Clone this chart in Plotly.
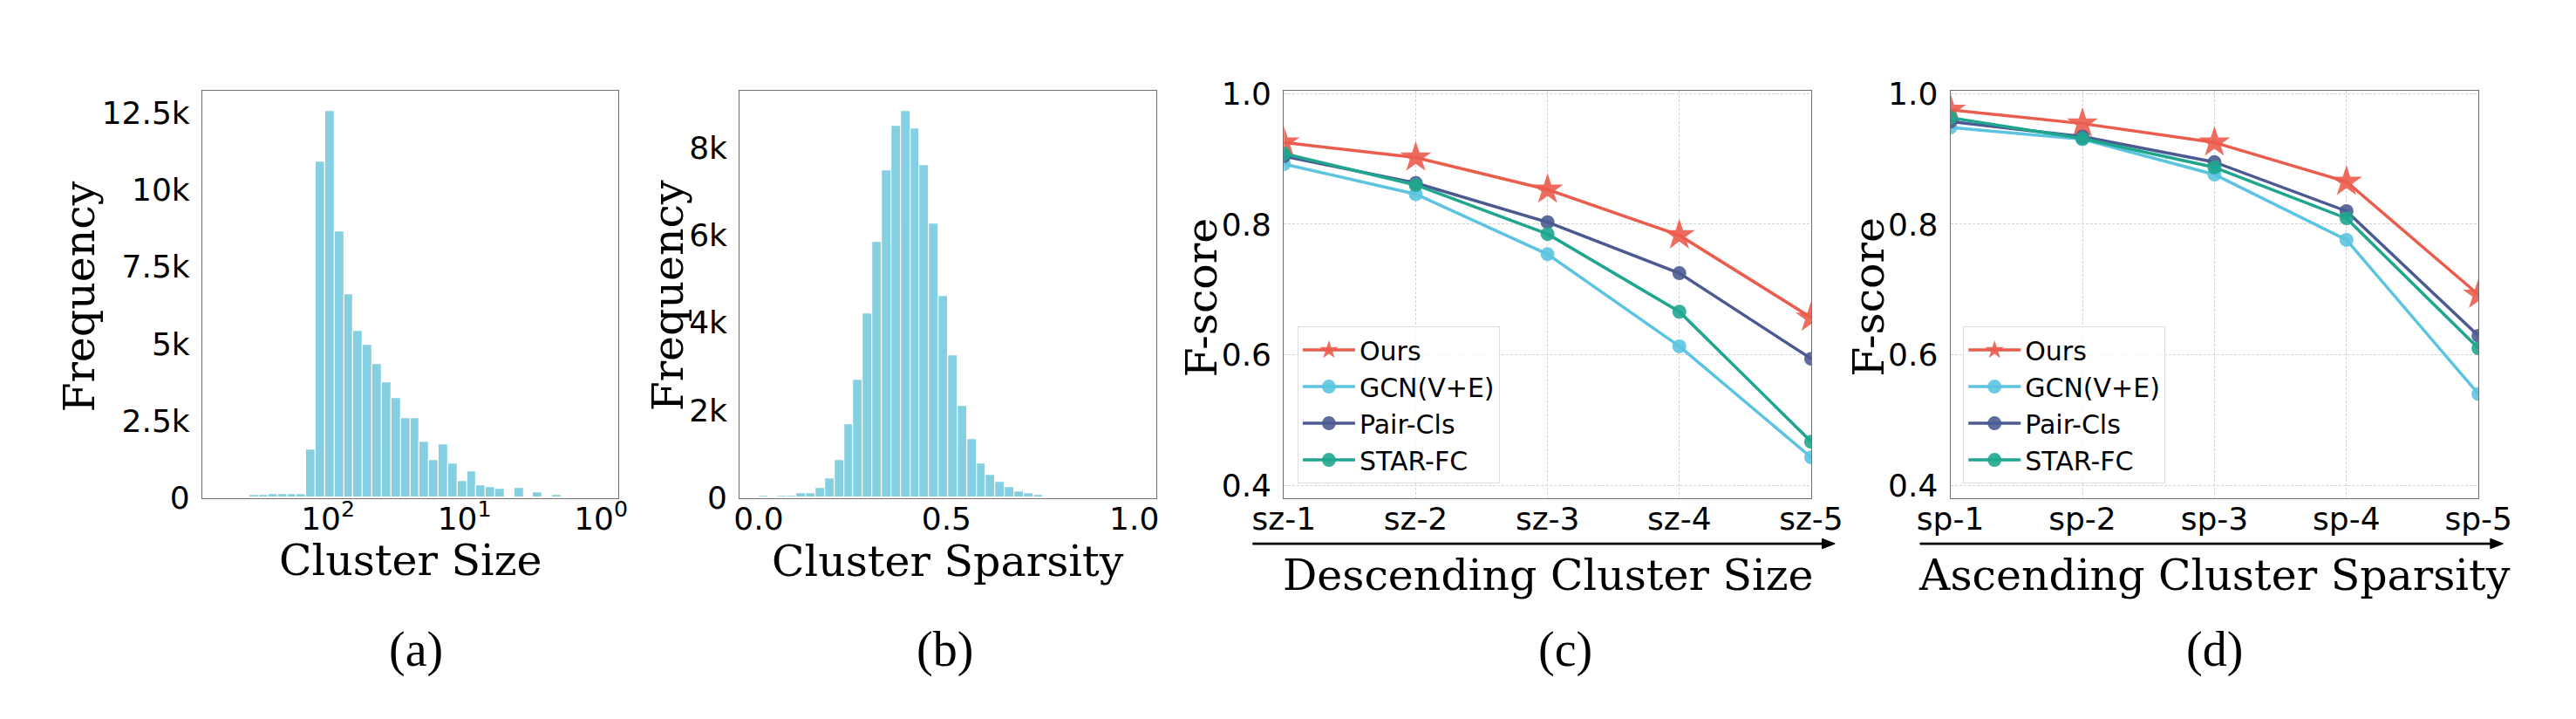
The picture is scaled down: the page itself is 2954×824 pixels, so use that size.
import plotly.graph_objects as go

W, H = 2954, 824

# ---- (a) cluster size histogram (log10 bins, drawn left -> right on a reversed axis)
size_log_hi = 2.782   # log10 of the largest cluster size
size_log_lo = 0.011   # log10 of the smallest cluster size
size_counts = [0, 0, 36, 90, 90, 117, 126, 135, 117, 1577, 10902, 12542, 8632, 6604,
               5415, 4965, 4334, 3739, 3235, 2577, 2577, 1820, 1234, 1739, 1117, 550,
               874, 396, 360, 306, 0, 333, 0, 171, 0, 90, 0, 0, 0, 0]

# ---- (b) cluster sparsity histogram
spars_lo = 0.0
spars_hi = 1.009
spars_counts = [57, 25, 44, 51, 102, 108, 229, 445, 857, 1676, 2705, 4210, 5842, 7474,
                8496, 8839, 8439, 7588, 6267, 4610, 3264, 2096, 1340, 781, 533, 362,
                254, 146, 102, 64, 13, 6, 0, 0, 0, 0, 0, 0, 0, 0]

# ---- (c)/(d) F-score per split
methods = ["Ours", "GCN(V+E)", "Pair-Cls", "STAR-FC"]
size_splits = ["sz-1", "sz-2", "sz-3", "sz-4", "sz-5"]
spars_splits = ["sp-1", "sp-2", "sp-3", "sp-4", "sp-5"]

fscore_size = {
    "Ours": [0.925, 0.902, 0.853, 0.783, 0.657],
    "GCN(V+E)": [0.892, 0.846, 0.754, 0.613, 0.443],
    "Pair-Cls": [0.904, 0.863, 0.803, 0.725, 0.594],
    "STAR-FC": [0.908, 0.860, 0.785, 0.666, 0.467],
}
fscore_spars = {
    "Ours": [0.975, 0.954, 0.925, 0.865, 0.692],
    "GCN(V+E)": [0.948, 0.930, 0.876, 0.776, 0.540],
    "Pair-Cls": [0.957, 0.934, 0.895, 0.820, 0.629],
    "STAR-FC": [0.963, 0.931, 0.887, 0.809, 0.610],
}

colors = {"Ours": "#EB5C4D", "GCN(V+E)": "#5CC4E0", "Pair-Cls": "#4B5B92", "STAR-FC": "#1FA68F"}
symbols = {"Ours": "star", "GCN(V+E)": "circle", "Pair-Cls": "circle", "STAR-FC": "circle"}
msize = {"Ours": 27, "GCN(V+E)": 16, "Pair-Cls": 16, "STAR-FC": 16}
BAR = "#84CFE2"

TICK_FONT = dict(family="DejaVu Sans", size=36, color="black")
TITLE_FONT = dict(family="DejaVu Serif", size=49, color="black")
CAP_FONT = dict(family="Liberation Serif", size=56, color="black")

fig = go.Figure()

# histogram (a)
n = len(size_counts)
w = (size_log_hi - size_log_lo) / n
fig.add_trace(go.Bar(
    x=[size_log_hi - (i + 0.5) * w for i in range(n)], y=size_counts, width=w,
    marker=dict(color=BAR, line=dict(color="white", width=1.2)),
    showlegend=False, xaxis="x", yaxis="y"))

# histogram (b)
n = len(spars_counts)
w = (spars_hi - spars_lo) / n
fig.add_trace(go.Bar(
    x=[spars_lo + (i + 0.5) * w for i in range(n)], y=spars_counts, width=w,
    marker=dict(color=BAR, line=dict(color="white", width=1.2)),
    showlegend=False, xaxis="x2", yaxis="y2"))

# line panels
for xa, ya, leg, cats, data in [("x3", "y3", "legend", size_splits, fscore_size),
                                 ("x4", "y4", "legend2", spars_splits, fscore_spars)]:
    for m in methods:
        fig.add_trace(go.Scatter(
            x=list(range(len(cats))), y=data[m], mode="lines+markers", name=m,
            line=dict(color=colors[m], width=3.5),
            marker=dict(symbol=symbols[m], size=msize[m], color=colors[m], opacity=0.9),
            xaxis=xa, yaxis=ya, legend=leg, legendgroup=leg + m))

y_dom = [1 - 572 / H, 1 - 83 / H]
frame = dict(showline=True, mirror=True, linecolor="#707070", linewidth=1.2,
             zeroline=False, ticks="", tickfont=TICK_FONT)
grid = dict(showgrid=True, gridcolor="#d3d3d3", griddash="3px,2px", gridwidth=1)

layout = dict(
    width=W, height=H, margin=dict(l=0, r=0, t=0, b=0),
    paper_bgcolor="white", plot_bgcolor="white", bargap=0,
    xaxis=dict(domain=[190 / W, 680 / W], range=[2.9206, -0.1276],
               tickvals=[2, 1, 0], ticktext=["10<sup>2</sup>", "10<sup>1</sup>", "10<sup>0</sup>"],
               showgrid=False, ticklabelstandoff=-8, **frame),
    yaxis=dict(domain=y_dom, range=[0, 13200], tickvals=[0, 2500, 5000, 7500, 10000, 12500],
               ticktext=["0", "2.5k", "5k", "7.5k", "10k", "12.5k"],
               showgrid=False, ticklabelstandoff=6, anchor="x", **frame),
    xaxis2=dict(domain=[823 / W, 1314 / W], range=[-0.0504, 1.0594],
                tickvals=[0, 0.5, 1.0], ticktext=["0.0", "0.5", "1.0"],
                showgrid=False, ticklabelstandoff=-8, anchor="y2", **frame),
    yaxis2=dict(domain=y_dom, range=[0, 9290], tickvals=[0, 2000, 4000, 6000, 8000],
                ticktext=["0", "2k", "4k", "6k", "8k"],
                showgrid=False, ticklabelstandoff=6, anchor="x2", **frame),
)
for i, (x0, x1, cats) in enumerate([(1464, 2085, size_splits), (2249, 2871, spars_splits)]):
    k = str(i + 3)
    layout["xaxis" + k] = dict(domain=[x0 / W, x1 / W], range=[0, 4],
                               tickvals=list(range(5)), ticktext=cats,
                               ticklabelstandoff=-8, anchor="y" + k, **grid, **frame)
    layout["yaxis" + k] = dict(domain=y_dom, range=[0.381, 1.004],
                               tickvals=[0.4, 0.6, 0.8, 1.0], ticktext=["0.4", "0.6", "0.8", "1.0"],
                               ticklabelstandoff=6, anchor="x" + k, **grid, **frame)

legend_style = dict(font=dict(family="DejaVu Sans", size=30, color="black"),
                    bgcolor="rgba(255,255,255,0.8)", bordercolor="#dddddd", borderwidth=1,
                    xanchor="left", yanchor="top", itemwidth=60, tracegroupgap=6,
                    traceorder="normal")
layout["legend"] = dict(x=1480 / W, y=1 - 366 / H, **legend_style)
layout["legend2"] = dict(x=2264 / W, y=1 - 366 / H, **legend_style)

fig.update_layout(**layout)


def note(text, x, y, font, angle=0):
    fig.add_annotation(text=text, x=x / W, y=1 - y / H, xref="paper", yref="paper",
                       showarrow=False, font=font, textangle=angle,
                       xanchor="center", yanchor="middle")


# axis titles
note("Frequency", 46, 330, TITLE_FONT, -90)
note("Frequency", 739, 329, TITLE_FONT, -90)
note("F-score", 1368, 331, TITLE_FONT, -90)
note("F-score", 2154, 331, TITLE_FONT, -90)
note("Cluster Size", 435, 647, TITLE_FONT)
note("Cluster Sparsity", 1068, 648, TITLE_FONT)
note("Descending Cluster Size", 1775, 665, TITLE_FONT)
note("Ascending Cluster Sparsity", 2560, 665, TITLE_FONT)

# arrows under the split axes (shaft + filled head)
ay = 627
for x0, x1 in [(1427, 2113), (2213, 2900)]:
    fig.add_shape(type="line", xref="paper", yref="paper",
                  x0=x0 / W, x1=(x1 - 8) / W, y0=1 - ay / H, y1=1 - ay / H,
                  line=dict(color="black", width=2.7))
    fig.add_shape(type="path", xref="paper", yref="paper",
                  path=f"M {x1 / W},{1 - ay / H} L {(x1 - 15) / W},{1 - (ay - 6) / H} "
                       f"L {(x1 - 15) / W},{1 - (ay + 6) / H} Z",
                  fillcolor="black", line=dict(color="black", width=1))

# sub-figure captions
note("(a)", 442, 754, CAP_FONT)
note("(b)", 1065, 754, CAP_FONT)
note("(c)", 1795, 754, CAP_FONT)
note("(d)", 2560, 754, CAP_FONT)

fig.write_html("out.html")
